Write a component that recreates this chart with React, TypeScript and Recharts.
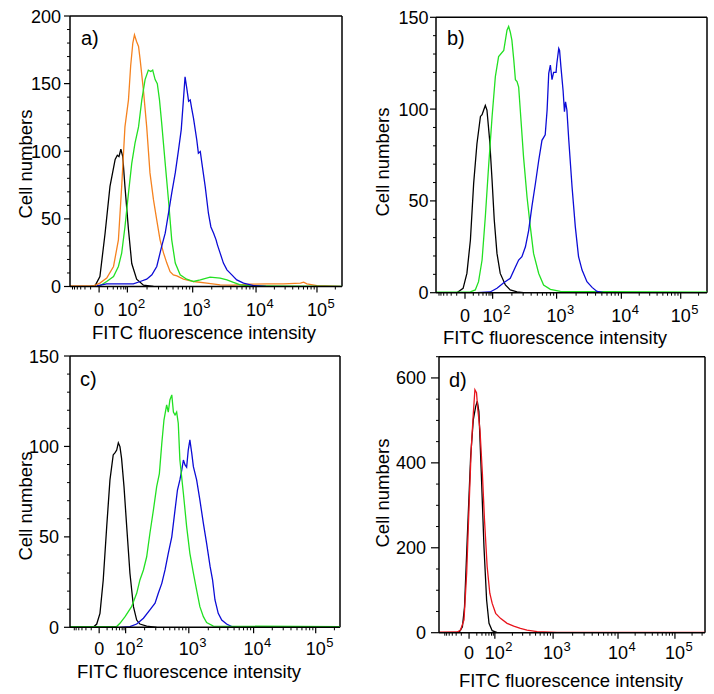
import React from 'react';
import { LineChart, Line, XAxis, YAxis, ReferenceLine } from 'recharts';

type Pt = [number, number];

const FONT = '"Liberation Sans", Arial, sans-serif';
const BLACK = '#000000';
const ORANGE = '#f5821f';
const GREEN = '#22e022';
const BLUE = '#0c0cd6';
const RED = '#e8141c';

// x axis is in display channels (0..1000) of a biexponential scale
const xTickLabels = ['0', '10^2', '10^3', '10^4', '10^5'];
const xTicksA = [107, 211, 451, 684, 908];
const xTicksB = [107, 209, 445, 684, 903];
const xTicksC = [108, 206, 440, 680, 910];
const xTicksD = [113, 210, 429, 673, 887];

const yTicksA = [0, 50, 100, 150, 200];
const yTicksBC = [0, 50, 100, 150];
const yTicksD = [0, 200, 400, 600];

// ---------- panel a ----------
const aBlack: Pt[] = [[74,0],[92,0.5],[110,7.4],[129,39.4],[147,74],[166,94],[174,97],[180,96],[187,101.5],[194,96],[202,74],[215,42],[227,17],[245,5.4],[270,1],[307,0]];
const aOrange: Pt[] = [[0,0.5],[86,0.5],[110,2.5],[135,6.2],[160,14.8],[178,34.5],[190,74],[202,118],[215,138],[223,163],[231,180],[237,186],[245,181],[252,177.5],[258,167.6],[270,145],[282,118],[294,84],[307,64],[319,49],[331,34.5],[344,24.7],[356,17.3],[368,11],[380,8.6],[393,7.9],[417,5.4],[454,3.7],[503,2.5],[552,1.2],[601,1],[663,1.7],[724,2],[785,2],[847,2.5],[859,3.2],[871,2],[908,0.7],[994,0]];
const aGreen: Pt[] = [[100,0.5],[110,0.5],[135,3.7],[160,7.4],[178,14.8],[190,24.7],[202,44],[215,69],[227,91],[239,106],[252,118],[264,138],[276,153],[288,160],[297,159],[304,160],[313,153],[321,150],[329,138],[337,121],[350,91],[362,64],[374,34.5],[387,17.3],[405,8.6],[429,5.4],[454,3.7],[479,4.9],[515,6.9],[552,6.2],[577,4.9],[601,3],[626,1.2],[663,0.5],[994,0],[1000,0]];
const aBlue: Pt[] = [[98,0.5],[135,2],[233,2],[258,3.7],[282,5.4],[301,8.6],[319,14.8],[337,29.6],[350,39.4],[362,54],[374,69],[387,84],[399,101],[409,116],[417,138],[423,155],[429,147],[436,137],[442,138],[448,131],[454,124.5],[466,108.5],[472,98.6],[479,99.8],[485,91],[497,74],[509,54],[518,44],[528,39.4],[537,34.5],[542,30.8],[552,24.7],[564,17.3],[577,12.3],[595,8.6],[613,4.9],[638,2.5],[675,0.7],[720,0]];

// ---------- panel b ----------
const bBlack: Pt[] = [[77,0],[100,2.4],[114,10.5],[127,28.7],[139,59.6],[151,81],[164,96],[170,97],[176,99.5],[182,102],[188,99.5],[198,83],[207,61],[215,39.6],[225,21.4],[237,10.5],[256,4.2],[274,1.5],[299,0.4],[323,0]];
const bGreen: Pt[] = [[0,0.3],[127,0.4],[145,1.5],[157,6],[170,17.8],[182,41.4],[194,68.6],[207,96],[219,117.7],[231,128.6],[250,132],[262,143],[268,145],[274,142],[280,137.6],[287,126.8],[293,116],[299,115],[305,112],[311,99.5],[323,74],[336,52],[348,36],[360,21.4],[379,10.5],[397,4.2],[422,1.8],[459,0.7],[1000,0.3]];
const bBlue: Pt[] = [[151,0],[200,0.4],[225,2.4],[250,5.4],[274,7.8],[293,14],[305,17.8],[317,19.6],[330,25],[342,34],[354,47],[367,59.6],[379,72],[391,83],[403,86],[410,99.5],[416,119.5],[422,124],[428,116],[434,120],[443,120],[446,125],[453,133],[456,132],[461,123],[469,110],[474,98.6],[478,104],[483,99.5],[490,83],[502,57.7],[514,36],[526,19.6],[539,12.3],[557,6],[576,2.9],[594,0.7],[619,0]];

// ---------- panel c ----------
const cBlack: Pt[] = [[86,0],[99,1.8],[111,7.7],[123,26],[136,55.7],[148,81.5],[160,95.3],[167,96.6],[173,98],[179,102],[185,99.9],[191,93.4],[200,77.8],[210,55.7],[222,29.9],[235,11.4],[247,4],[259,1.8],[284,0.7],[321,0]];
const cGreen: Pt[] = [[0,0.4],[173,0.4],[185,2.2],[204,5.9],[228,11.4],[247,18.8],[259,26.2],[272,31.7],[284,39],[296,52],[309,64.9],[321,77.8],[331,85],[340,101.7],[348,114.6],[358,123],[364,119],[370,125.7],[377,128.5],[383,119],[389,117.4],[395,119],[401,112.8],[407,92.5],[420,74],[432,55.7],[444,40.9],[457,29.9],[469,20.6],[481,11.4],[494,5.9],[506,2.6],[531,0.7],[1000,0.3]];
const cBlue: Pt[] = [[185,0],[222,0.4],[247,1.8],[272,5],[296,9.6],[315,13.3],[327,18.8],[340,24.3],[352,31.7],[364,40.9],[377,50],[389,64.9],[398,75.9],[407,81.5],[414,87],[420,92.5],[426,89.8],[432,88.5],[438,98],[444,103.6],[451,96.2],[457,88.8],[469,81.5],[481,70.4],[494,57.5],[506,46.4],[519,33.5],[528,26.2],[537,15.1],[549,7.7],[562,4],[580,1.8],[599,0.4],[620,0]];

// ---------- panel d ----------
const dBlack: Pt[] = [[75,0],[88,14],[96,61],[106,219],[119,415],[129,502],[138,533],[144,545],[150,521],[159,376],[169,203],[179,77],[188,22],[200,4.7],[219,0]];
const dRed: Pt[] = [[0,1.5],[69,1.6],[81,6.3],[94,30],[104,140],[113,297],[121,431],[129,517],[135,572],[141,565],[146,525],[154,478],[163,376],[171,266],[181,156],[191,93],[200,69],[213,45.6],[231,33.8],[256,22],[281,15.7],[306,10],[331,6.3],[369,2.4],[444,0.8],[1000,0.8]];

const toData = (pts: Pt[]) => pts.map(([x, y]) => ({ x, y }));

function minorXTicks(c: number[]): number[] {
  const [c0, c2, c3, c4, c5] = c;
  const span = c2 - c0;
  const res: number[] = [];
  const fr = [0.3, 0.5, 0.65, 0.77, 0.87, 0.94];
  fr.forEach((f) => {
    const v = c0 - f * span;
    if (v > 2) res.push(v);
    res.push(c0 + f * span);
  });
  const decs: [number, number][] = [[c2, c3], [c3, c4], [c4, c5]];
  decs.forEach(([a, b]) => {
    for (let m = 2; m <= 9; m++) res.push(a + Math.log10(m) * (b - a));
  });
  for (let m = 2; m <= 9; m++) {
    const v = c5 + Math.log10(m) * (c5 - c4);
    if (v < 998) res.push(v);
  }
  return res;
}

function minorYTicks(max: number, step: number, majors: number[]): number[] {
  const res: number[] = [];
  for (let v = 0; v <= max; v += step) if (!majors.includes(v)) res.push(v);
  return res;
}

interface SeriesDef { pts: Pt[]; color: string; }

interface PanelProps {
  left: number; top: number; w: number; h: number;
  plotLeft: number; plotRight: number; plotTop: number; plotBottom: number;
  yMax: number; yMajors: number[]; yMinorStep: number;
  xMajors: number[];
  series: SeriesDef[];
  letter: string; letterX: number; letterY: number;
  ylabY: number; titleX: number; titleY: number;
  xLabDy: number; yGap: number; yMajorLen: number;
}

const TICK_FS = 18;
const TITLE_FS = 18.5;

function Panel(p: PanelProps) {
  const xAll = [...p.xMajors, ...minorXTicks(p.xMajors)];
  const yAll = [...p.yMajors, ...minorYTicks(p.yMax, p.yMinorStep, p.yMajors)];

  const XTick = (props: any) => {
    const { x, y, payload } = props;
    const idx = p.xMajors.indexOf(payload.value);
    if (idx < 0) {
      return <line x1={x} y1={y} x2={x} y2={y + 3} stroke="#000" strokeWidth={1} />;
    }
    const lab = xTickLabels[idx];
    const parts = lab.split('^');
    return (
      <g>
        <line x1={x} y1={y} x2={x} y2={y + 6} stroke="#000" strokeWidth={1.2} />
        <text x={x} y={y + p.xLabDy} textAnchor="middle" fontFamily={FONT} fontSize={TICK_FS} fill="#000">{parts[0]}</text>
        {parts[1] ? (
          <text x={x + 10.5} y={y + p.xLabDy - 8} textAnchor="start" fontFamily={FONT} fontSize={13} fill="#000">{parts[1]}</text>
        ) : null}
      </g>
    );
  };

  const YTick = (props: any) => {
    const { x, y, payload } = props;
    const isMajor = p.yMajors.includes(payload.value);
    if (!isMajor) {
      return <line x1={x} y1={y} x2={x - 3} y2={y} stroke="#000" strokeWidth={1} />;
    }
    return (
      <g>
        <line x1={x} y1={y} x2={x - p.yMajorLen} y2={y} stroke="#000" strokeWidth={1.2} />
        <text x={x - p.yGap} y={y + 6.5} textAnchor="end" fontFamily={FONT} fontSize={TICK_FS} fill="#000">{payload.value}</text>
      </g>
    );
  };

  return (
    <div style={{ position: 'absolute', left: p.left, top: p.top, width: p.w, height: p.h }}>
      <LineChart
        width={p.w}
        height={p.h}
        margin={{ top: p.plotTop, right: p.w - p.plotRight, bottom: 0, left: 0 }}
      >
        <XAxis
          type="number"
          dataKey="x"
          domain={[0, 1000]}
          allowDataOverflow
          ticks={xAll}
          interval={0}
          tick={XTick}
          tickLine={false}
          tickSize={0}
          tickMargin={0}
          height={p.h - p.plotBottom}
          axisLine={{ stroke: '#000', strokeWidth: 1.5 }}
          label={{
            content: () => (
              <text x={p.titleX} y={p.titleY} textAnchor="middle" fontFamily={FONT} fontSize={TITLE_FS} fill="#000">
                FITC fluorescence intensity
              </text>
            ),
          }}
        />
        <YAxis
          type="number"
          domain={[0, p.yMax]}
          allowDataOverflow
          ticks={yAll}
          interval={0}
          tick={YTick}
          tickLine={false}
          tickSize={0}
          tickMargin={0}
          width={p.plotLeft}
          axisLine={{ stroke: '#000', strokeWidth: 1.5 }}
          label={{
            content: () => (
              <text
                x={31.5}
                y={p.ylabY}
                transform={`rotate(-90, 31.5, ${p.ylabY})`}
                textAnchor="middle"
                fontFamily={FONT}
                fontSize={TITLE_FS}
                fill="#000"
              >
                Cell numbers
              </text>
            ),
          }}
        />
        <ReferenceLine
          y={p.yMax}
          stroke="#000"
          strokeWidth={1.5}
          ifOverflow="visible"
          label={{
            content: () => (
              <text x={p.letterX} y={p.letterY} fontFamily={FONT} fontSize={20} fill="#000">
                {p.letter}
              </text>
            ),
          }}
        />
        <ReferenceLine x={1000} stroke="#000" strokeWidth={1.5} ifOverflow="visible" />
        {p.series.map((s, i) => (
          <Line
            key={i}
            data={toData(s.pts)}
            dataKey="y"
            type="linear"
            stroke={s.color}
            strokeWidth={1.3}
            dot={false}
            activeDot={false}
            isAnimationActive={false}
          />
        ))}
      </LineChart>
    </div>
  );
}

export default function App() {
  return (
    <div style={{ position: 'absolute', left: 0, top: 0, width: 714, height: 694, background: '#fff', overflow: 'hidden' }}>
      <Panel
        left={0} top={0} w={357} h={347}
        plotLeft={70} plotRight={342} plotTop={16} plotBottom={286.5}
        yMax={200} yMajors={yTicksA} yMinorStep={10}
        xMajors={xTicksA}
        series={[
          { pts: aBlack, color: BLACK },
          { pts: aOrange, color: ORANGE },
          { pts: aGreen, color: GREEN },
          { pts: aBlue, color: BLUE },
        ]}
        letter="a)" letterX={81} letterY={45}
        ylabY={164} titleX={204} titleY={339}
        xLabDy={29} yGap={9} yMajorLen={6}
      />
      <Panel
        left={357} top={0} w={357} h={353}
        plotLeft={79} plotRight={350} plotTop={17.3} plotBottom={292.7}
        yMax={150} yMajors={yTicksBC} yMinorStep={10}
        xMajors={xTicksB}
        series={[
          { pts: bBlack, color: BLACK },
          { pts: bGreen, color: GREEN },
          { pts: bBlue, color: BLUE },
        ]}
        letter="b)" letterX={90} letterY={45}
        ylabY={162} titleX={198} titleY={344}
        xLabDy={29.5} yGap={7.5} yMajorLen={6}
      />
      <Panel
        left={0} top={347} w={357} h={347}
        plotLeft={70} plotRight={340} plotTop={9} plotBottom={280.3}
        yMax={150} yMajors={yTicksBC} yMinorStep={10}
        xMajors={xTicksC}
        series={[
          { pts: cBlack, color: BLACK },
          { pts: cBlue, color: BLUE },
          { pts: cGreen, color: GREEN },
        ]}
        letter="c)" letterX={80} letterY={38.5}
        ylabY={159} titleX={189} titleY={331}
        xLabDy={28} yGap={11} yMajorLen={6}
      />
      <Panel
        left={357} top={347} w={357} h={347}
        plotLeft={82} plotRight={348} plotTop={9.7} plotBottom={285.7}
        yMax={650} yMajors={yTicksD} yMinorStep={50}
        xMajors={xTicksD}
        series={[
          { pts: dBlack, color: BLACK },
          { pts: dRed, color: RED },
        ]}
        letter="d)" letterX={92} letterY={40}
        ylabY={146} titleX={214} titleY={340}
        xLabDy={26} yGap={13} yMajorLen={8}
      />
    </div>
  );
}
